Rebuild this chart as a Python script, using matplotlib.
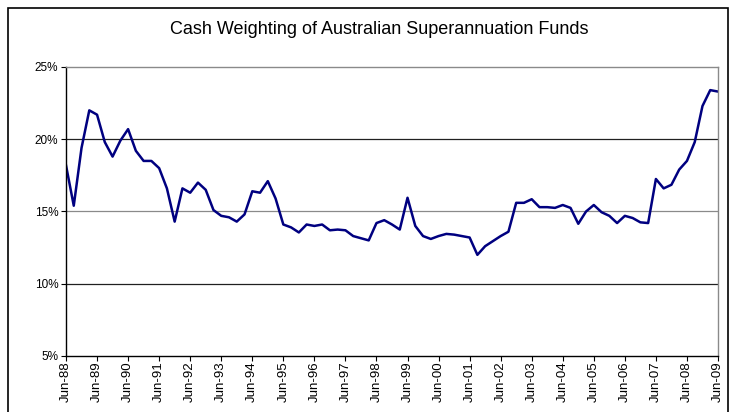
import matplotlib
matplotlib.use("Agg")
import matplotlib.pyplot as plt
from matplotlib.patches import Rectangle

plt.rcParams['font.family'] = ['Liberation Sans', 'DejaVu Sans']

# quarterly cash weighting (%), Jun-88 .. Jun-09
cash_weight = [
    18.2, 15.4, 19.4, 22.0, 21.7, 19.8, 18.8, 19.9,
    20.7, 19.2, 18.5, 18.5, 18.0, 16.6, 14.3, 16.6,
    16.3, 17.0, 16.5, 15.1, 14.7, 14.6, 14.3, 14.8,
    16.4, 16.3, 17.1, 15.9, 14.1, 13.9, 13.55, 14.1,
    14.0, 14.1, 13.7, 13.75, 13.7, 13.3, 13.15, 13.0,
    14.2, 14.4, 14.1, 13.75, 15.95, 14.0, 13.3, 13.1,
    13.3, 13.45, 13.4, 13.3, 13.2, 12.0, 12.6, 12.95,
    13.3, 13.6, 15.6, 15.6, 15.85, 15.3, 15.3, 15.25,
    15.45, 15.25, 14.15, 15.0, 15.45, 14.95, 14.7, 14.2,
    14.7, 14.55, 14.25, 14.2, 17.25, 16.6, 16.85, 17.9,
    18.5, 19.8, 22.3, 23.4, 23.3,
]
year_labels = ['Jun-88', 'Jun-89', 'Jun-90', 'Jun-91', 'Jun-92', 'Jun-93', 'Jun-94',
               'Jun-95', 'Jun-96', 'Jun-97', 'Jun-98', 'Jun-99', 'Jun-00', 'Jun-01',
               'Jun-02', 'Jun-03', 'Jun-04', 'Jun-05', 'Jun-06', 'Jun-07', 'Jun-08',
               'Jun-09']
y_ticks = [5, 10, 15, 20, 25]

W, H = 731, 412
fig = plt.figure(figsize=(W / 100, H / 100), dpi=100)
fig.patch.set_facecolor('white')

# outer chart border
fig.patches.append(Rectangle((8 / W, -0.02), 720 / W, 1 - 8 / H + 0.02,
                             transform=fig.transFigure, fill=False,
                             edgecolor='black', linewidth=1.2))

left, right, top, bottom = 66, 718, 67, 356
ax = fig.add_axes([left / W, 1 - bottom / H, (right - left) / W, (bottom - top) / H])

x = list(range(len(cash_weight)))
ax.plot(x, cash_weight, color='#000080', linewidth=1.8)

ax.set_xlim(0, len(cash_weight) - 1)
ax.set_ylim(5, 25)

grid_colors = {10: '#202020', 15: '#8a8a8a', 20: '#202020'}
for v, c in grid_colors.items():
    ax.axhline(v, color=c, linewidth=0.9, zorder=0)

ax.set_yticks(y_ticks)
ax.set_yticklabels([f'{v}%' for v in y_ticks], fontsize=8.5)
ax.set_xticks(range(0, len(cash_weight), 4))
ax.set_xticklabels(year_labels, rotation=90, fontsize=9.5)
ax.tick_params(axis='both', direction='out', length=3.5, width=0.8, colors='black')
ax.tick_params(axis='x', pad=0.5)
ax.tick_params(axis='y', pad=2)

for side in ['top', 'right']:
    ax.spines[side].set_color('#8a8a8a')
    ax.spines[side].set_linewidth(1.0)
for side in ['left', 'bottom']:
    ax.spines[side].set_color('black')
    ax.spines[side].set_linewidth(1.0)

fig.text(379 / W, 1 - 30 / H, 'Cash Weighting of Australian Superannuation Funds',
         ha='center', va='center', fontsize=13)

fig.savefig('out.png', dpi=100)
